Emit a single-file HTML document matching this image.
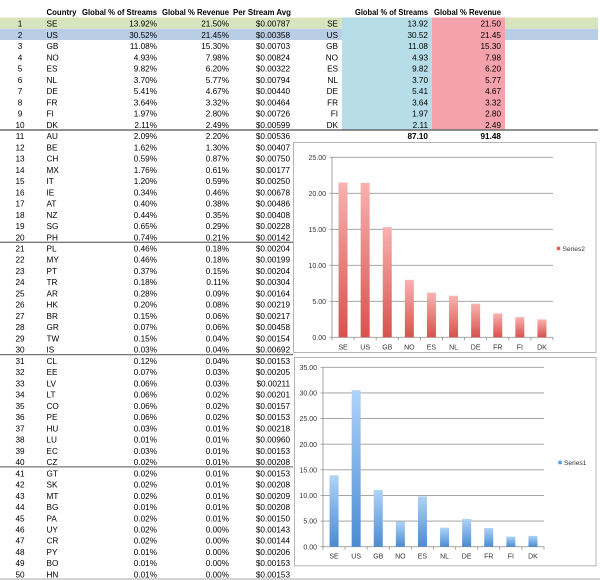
<!DOCTYPE html>
<html><head><meta charset="utf-8"><style>
html,body{margin:0;padding:0;background:#fff;}
svg{display:block;}
text{font-family:"Liberation Sans",Arial,sans-serif;font-size:8.2px;fill:#000;}
.e{text-anchor:end;}
.m{text-anchor:middle;}
.h{font-weight:bold;font-size:8px;}
.b{font-weight:bold;}
.ax{font-size:7px;fill:#333;}
.lg{font-size:6.6px;fill:#333;}
</style></head><body>
<svg width="600" height="580" viewBox="0 0 600 580" xmlns="http://www.w3.org/2000/svg">
<defs>
<linearGradient id="rg" x1="0" y1="0" x2="0" y2="1"><stop offset="0" stop-color="#f8b2b0"/><stop offset="1" stop-color="#d7524d"/></linearGradient>
<linearGradient id="bg" x1="0" y1="0" x2="0" y2="1"><stop offset="0" stop-color="#afd3f8"/><stop offset="1" stop-color="#4a8bd3"/></linearGradient>
</defs>
<rect x="0" y="0" width="600" height="580" fill="#fff"/>
<!-- row bands -->
<rect x="0" y="17.5" width="598" height="11.24" fill="#d7e4bd"/>
<rect x="0" y="28.74" width="598" height="11.24" fill="#b9cde5"/>
<rect x="342" y="17.5" width="90" height="112.4" fill="#b7dee8"/>
<rect x="432" y="17.5" width="73" height="112.4" fill="#f4a2ac"/>
<!-- separators -->
<line x1="0" y1="130" x2="598" y2="130" stroke="#6b6b6b" stroke-width="1.5"/>
<line x1="0" y1="242.3" x2="293" y2="242.3" stroke="#777" stroke-width="1.3"/>
<line x1="0" y1="354.6" x2="293" y2="354.6" stroke="#777" stroke-width="1.3"/>
<line x1="0" y1="466.9" x2="293" y2="466.9" stroke="#777" stroke-width="1.3"/>
<line x1="0" y1="579" x2="600" y2="579" stroke="#aaa" stroke-width="1"/>

<!-- headers -->
<text class="h" x="46.5" y="15" textLength="30" lengthAdjust="spacingAndGlyphs">Country</text>
<text class="h" x="82" y="15" textLength="75" lengthAdjust="spacingAndGlyphs">Global % of Streams</text>
<text class="h" x="162" y="15" textLength="67" lengthAdjust="spacingAndGlyphs">Global % Revenue</text>
<text class="h" x="233" y="15" textLength="58" lengthAdjust="spacingAndGlyphs">Per Stream Avg</text>
<text class="h" x="355" y="15" textLength="73" lengthAdjust="spacingAndGlyphs">Global % of Streams</text>
<text class="h" x="434" y="15" textLength="67" lengthAdjust="spacingAndGlyphs">Global % Revenue</text>

<!-- rows -->
<g transform="translate(0,26.7)"><text x="20" class="m">1</text><text x="46.5">SE</text><text x="157" class="e">13.92%</text><text x="229" class="e">21.50%</text><text x="290" class="e">$0.00787</text><text x="338" class="e">SE</text><text x="428" class="e">13.92</text><text x="501" class="e">21.50</text></g>
<g transform="translate(0,37.94)"><text x="20" class="m">2</text><text x="46.5">US</text><text x="157" class="e">30.52%</text><text x="229" class="e">21.45%</text><text x="290" class="e">$0.00358</text><text x="338" class="e">US</text><text x="428" class="e">30.52</text><text x="501" class="e">21.45</text></g>
<g transform="translate(0,49.18)"><text x="20" class="m">3</text><text x="46.5">GB</text><text x="157" class="e">11.08%</text><text x="229" class="e">15.30%</text><text x="290" class="e">$0.00703</text><text x="338" class="e">GB</text><text x="428" class="e">11.08</text><text x="501" class="e">15.30</text></g>
<g transform="translate(0,60.42)"><text x="20" class="m">4</text><text x="46.5">NO</text><text x="157" class="e">4.93%</text><text x="229" class="e">7.98%</text><text x="290" class="e">$0.00824</text><text x="338" class="e">NO</text><text x="428" class="e">4.93</text><text x="501" class="e">7.98</text></g>
<g transform="translate(0,71.66)"><text x="20" class="m">5</text><text x="46.5">ES</text><text x="157" class="e">9.82%</text><text x="229" class="e">6.20%</text><text x="290" class="e">$0.00322</text><text x="338" class="e">ES</text><text x="428" class="e">9.82</text><text x="501" class="e">6.20</text></g>
<g transform="translate(0,82.9)"><text x="20" class="m">6</text><text x="46.5">NL</text><text x="157" class="e">3.70%</text><text x="229" class="e">5.77%</text><text x="290" class="e">$0.00794</text><text x="338" class="e">NL</text><text x="428" class="e">3.70</text><text x="501" class="e">5.77</text></g>
<g transform="translate(0,94.14)"><text x="20" class="m">7</text><text x="46.5">DE</text><text x="157" class="e">5.41%</text><text x="229" class="e">4.67%</text><text x="290" class="e">$0.00440</text><text x="338" class="e">DE</text><text x="428" class="e">5.41</text><text x="501" class="e">4.67</text></g>
<g transform="translate(0,105.38)"><text x="20" class="m">8</text><text x="46.5">FR</text><text x="157" class="e">3.64%</text><text x="229" class="e">3.32%</text><text x="290" class="e">$0.00464</text><text x="338" class="e">FR</text><text x="428" class="e">3.64</text><text x="501" class="e">3.32</text></g>
<g transform="translate(0,116.62)"><text x="20" class="m">9</text><text x="46.5">FI</text><text x="157" class="e">1.97%</text><text x="229" class="e">2.80%</text><text x="290" class="e">$0.00726</text><text x="338" class="e">FI</text><text x="428" class="e">1.97</text><text x="501" class="e">2.80</text></g>
<g transform="translate(0,127.86)"><text x="20" class="m">10</text><text x="46.5">DK</text><text x="157" class="e">2.11%</text><text x="229" class="e">2.49%</text><text x="290" class="e">$0.00599</text><text x="338" class="e">DK</text><text x="428" class="e">2.11</text><text x="501" class="e">2.49</text></g>
<g transform="translate(0,139.1)"><text x="20" class="m">11</text><text x="46.5">AU</text><text x="157" class="e">2.09%</text><text x="229" class="e">2.20%</text><text x="290" class="e">$0.00536</text><text x="428" class="e b">87.10</text><text x="501" class="e b">91.48</text></g>
<g transform="translate(0,150.34)"><text x="20" class="m">12</text><text x="46.5">BE</text><text x="157" class="e">1.62%</text><text x="229" class="e">1.30%</text><text x="290" class="e">$0.00407</text></g>
<g transform="translate(0,161.58)"><text x="20" class="m">13</text><text x="46.5">CH</text><text x="157" class="e">0.59%</text><text x="229" class="e">0.87%</text><text x="290" class="e">$0.00750</text></g>
<g transform="translate(0,172.82)"><text x="20" class="m">14</text><text x="46.5">MX</text><text x="157" class="e">1.76%</text><text x="229" class="e">0.61%</text><text x="290" class="e">$0.00177</text></g>
<g transform="translate(0,184.06)"><text x="20" class="m">15</text><text x="46.5">IT</text><text x="157" class="e">1.20%</text><text x="229" class="e">0.59%</text><text x="290" class="e">$0.00250</text></g>
<g transform="translate(0,195.3)"><text x="20" class="m">16</text><text x="46.5">IE</text><text x="157" class="e">0.34%</text><text x="229" class="e">0.46%</text><text x="290" class="e">$0.00678</text></g>
<g transform="translate(0,206.54)"><text x="20" class="m">17</text><text x="46.5">AT</text><text x="157" class="e">0.40%</text><text x="229" class="e">0.38%</text><text x="290" class="e">$0.00486</text></g>
<g transform="translate(0,217.78)"><text x="20" class="m">18</text><text x="46.5">NZ</text><text x="157" class="e">0.44%</text><text x="229" class="e">0.35%</text><text x="290" class="e">$0.00408</text></g>
<g transform="translate(0,229.02)"><text x="20" class="m">19</text><text x="46.5">SG</text><text x="157" class="e">0.65%</text><text x="229" class="e">0.29%</text><text x="290" class="e">$0.00228</text></g>
<g transform="translate(0,240.26)"><text x="20" class="m">20</text><text x="46.5">PH</text><text x="157" class="e">0.74%</text><text x="229" class="e">0.21%</text><text x="290" class="e">$0.00142</text></g>
<g transform="translate(0,251.5)"><text x="20" class="m">21</text><text x="46.5">PL</text><text x="157" class="e">0.46%</text><text x="229" class="e">0.18%</text><text x="290" class="e">$0.00204</text></g>
<g transform="translate(0,262.74)"><text x="20" class="m">22</text><text x="46.5">MY</text><text x="157" class="e">0.46%</text><text x="229" class="e">0.18%</text><text x="290" class="e">$0.00199</text></g>
<g transform="translate(0,273.98)"><text x="20" class="m">23</text><text x="46.5">PT</text><text x="157" class="e">0.37%</text><text x="229" class="e">0.15%</text><text x="290" class="e">$0.00204</text></g>
<g transform="translate(0,285.22)"><text x="20" class="m">24</text><text x="46.5">TR</text><text x="157" class="e">0.18%</text><text x="229" class="e">0.11%</text><text x="290" class="e">$0.00304</text></g>
<g transform="translate(0,296.46)"><text x="20" class="m">25</text><text x="46.5">AR</text><text x="157" class="e">0.28%</text><text x="229" class="e">0.09%</text><text x="290" class="e">$0.00164</text></g>
<g transform="translate(0,307.7)"><text x="20" class="m">26</text><text x="46.5">HK</text><text x="157" class="e">0.20%</text><text x="229" class="e">0.08%</text><text x="290" class="e">$0.00219</text></g>
<g transform="translate(0,318.94)"><text x="20" class="m">27</text><text x="46.5">BR</text><text x="157" class="e">0.15%</text><text x="229" class="e">0.06%</text><text x="290" class="e">$0.00217</text></g>
<g transform="translate(0,330.18)"><text x="20" class="m">28</text><text x="46.5">GR</text><text x="157" class="e">0.07%</text><text x="229" class="e">0.06%</text><text x="290" class="e">$0.00458</text></g>
<g transform="translate(0,341.42)"><text x="20" class="m">29</text><text x="46.5">TW</text><text x="157" class="e">0.15%</text><text x="229" class="e">0.04%</text><text x="290" class="e">$0.00154</text></g>
<g transform="translate(0,352.66)"><text x="20" class="m">30</text><text x="46.5">IS</text><text x="157" class="e">0.03%</text><text x="229" class="e">0.04%</text><text x="290" class="e">$0.00692</text></g>
<g transform="translate(0,363.9)"><text x="20" class="m">31</text><text x="46.5">CL</text><text x="157" class="e">0.12%</text><text x="229" class="e">0.04%</text><text x="290" class="e">$0.00153</text></g>
<g transform="translate(0,375.14)"><text x="20" class="m">32</text><text x="46.5">EE</text><text x="157" class="e">0.07%</text><text x="229" class="e">0.03%</text><text x="290" class="e">$0.00205</text></g>
<g transform="translate(0,386.38)"><text x="20" class="m">33</text><text x="46.5">LV</text><text x="157" class="e">0.06%</text><text x="229" class="e">0.03%</text><text x="290" class="e">$0.00211</text></g>
<g transform="translate(0,397.62)"><text x="20" class="m">34</text><text x="46.5">LT</text><text x="157" class="e">0.06%</text><text x="229" class="e">0.02%</text><text x="290" class="e">$0.00201</text></g>
<g transform="translate(0,408.86)"><text x="20" class="m">35</text><text x="46.5">CO</text><text x="157" class="e">0.06%</text><text x="229" class="e">0.02%</text><text x="290" class="e">$0.00157</text></g>
<g transform="translate(0,420.1)"><text x="20" class="m">36</text><text x="46.5">PE</text><text x="157" class="e">0.06%</text><text x="229" class="e">0.02%</text><text x="290" class="e">$0.00153</text></g>
<g transform="translate(0,431.34)"><text x="20" class="m">37</text><text x="46.5">HU</text><text x="157" class="e">0.03%</text><text x="229" class="e">0.01%</text><text x="290" class="e">$0.00218</text></g>
<g transform="translate(0,442.58)"><text x="20" class="m">38</text><text x="46.5">LU</text><text x="157" class="e">0.01%</text><text x="229" class="e">0.01%</text><text x="290" class="e">$0.00960</text></g>
<g transform="translate(0,453.82)"><text x="20" class="m">39</text><text x="46.5">EC</text><text x="157" class="e">0.03%</text><text x="229" class="e">0.01%</text><text x="290" class="e">$0.00153</text></g>
<g transform="translate(0,465.06)"><text x="20" class="m">40</text><text x="46.5">CZ</text><text x="157" class="e">0.02%</text><text x="229" class="e">0.01%</text><text x="290" class="e">$0.00208</text></g>
<g transform="translate(0,476.3)"><text x="20" class="m">41</text><text x="46.5">GT</text><text x="157" class="e">0.02%</text><text x="229" class="e">0.01%</text><text x="290" class="e">$0.00153</text></g>
<g transform="translate(0,487.54)"><text x="20" class="m">42</text><text x="46.5">SK</text><text x="157" class="e">0.02%</text><text x="229" class="e">0.01%</text><text x="290" class="e">$0.00208</text></g>
<g transform="translate(0,498.78)"><text x="20" class="m">43</text><text x="46.5">MT</text><text x="157" class="e">0.02%</text><text x="229" class="e">0.01%</text><text x="290" class="e">$0.00209</text></g>
<g transform="translate(0,510.02)"><text x="20" class="m">44</text><text x="46.5">BG</text><text x="157" class="e">0.01%</text><text x="229" class="e">0.01%</text><text x="290" class="e">$0.00208</text></g>
<g transform="translate(0,521.26)"><text x="20" class="m">45</text><text x="46.5">PA</text><text x="157" class="e">0.02%</text><text x="229" class="e">0.01%</text><text x="290" class="e">$0.00150</text></g>
<g transform="translate(0,532.5)"><text x="20" class="m">46</text><text x="46.5">UY</text><text x="157" class="e">0.02%</text><text x="229" class="e">0.00%</text><text x="290" class="e">$0.00143</text></g>
<g transform="translate(0,543.74)"><text x="20" class="m">47</text><text x="46.5">CR</text><text x="157" class="e">0.02%</text><text x="229" class="e">0.00%</text><text x="290" class="e">$0.00144</text></g>
<g transform="translate(0,554.98)"><text x="20" class="m">48</text><text x="46.5">PY</text><text x="157" class="e">0.01%</text><text x="229" class="e">0.00%</text><text x="290" class="e">$0.00206</text></g>
<g transform="translate(0,566.22)"><text x="20" class="m">49</text><text x="46.5">BO</text><text x="157" class="e">0.01%</text><text x="229" class="e">0.00%</text><text x="290" class="e">$0.00153</text></g>
<g transform="translate(0,577.46)"><text x="20" class="m">50</text><text x="46.5">HN</text><text x="157" class="e">0.01%</text><text x="229" class="e">0.00%</text><text x="290" class="e">$0.00153</text></g>

<!-- Chart 1 (Series2 - revenue) -->
<rect x="293.5" y="142.5" width="302.5" height="210" fill="#fff" stroke="#b5b5b5" stroke-width="1"/>
<g stroke="#9a9a9a" stroke-width="0.9">
<line x1="329.5" y1="157.3" x2="553" y2="157.3"/>
<line x1="329.5" y1="193.3" x2="553" y2="193.3"/>
<line x1="329.5" y1="229.3" x2="553" y2="229.3"/>
<line x1="329.5" y1="265.3" x2="553" y2="265.3"/>
<line x1="329.5" y1="301.3" x2="553" y2="301.3"/>
<line x1="329.5" y1="337.3" x2="553" y2="337.3"/>
<line x1="332" y1="157.3" x2="332" y2="337.3"/>
<line x1="332" y1="337.3" x2="332" y2="340.3"/><line x1="354.1" y1="337.3" x2="354.1" y2="340.3"/><line x1="376.2" y1="337.3" x2="376.2" y2="340.3"/><line x1="398.3" y1="337.3" x2="398.3" y2="340.3"/><line x1="420.4" y1="337.3" x2="420.4" y2="340.3"/><line x1="442.5" y1="337.3" x2="442.5" y2="340.3"/><line x1="464.6" y1="337.3" x2="464.6" y2="340.3"/><line x1="486.7" y1="337.3" x2="486.7" y2="340.3"/><line x1="508.8" y1="337.3" x2="508.8" y2="340.3"/><line x1="530.9" y1="337.3" x2="530.9" y2="340.3"/><line x1="553" y1="337.3" x2="553" y2="340.3"/>
</g>
<g fill="url(#rg)">
<rect x="338.55" y="182.5" width="9" height="154.8"/>
<rect x="360.65" y="182.86" width="9" height="154.44"/>
<rect x="382.75" y="227.14" width="9" height="110.16"/>
<rect x="404.85" y="279.84" width="9" height="57.46"/>
<rect x="426.95" y="292.66" width="9" height="44.64"/>
<rect x="449.05" y="295.76" width="9" height="41.54"/>
<rect x="471.15" y="303.68" width="9" height="33.62"/>
<rect x="493.25" y="313.4" width="9" height="23.9"/>
<rect x="515.35" y="317.14" width="9" height="20.16"/>
<rect x="537.45" y="319.37" width="9" height="17.93"/>
</g>
<g class="ax">
<text class="ax e" x="326" y="159.9">25.00</text>
<text class="ax e" x="326" y="195.9">20.00</text>
<text class="ax e" x="326" y="231.9">15.00</text>
<text class="ax e" x="326" y="267.9">10.00</text>
<text class="ax e" x="326" y="303.9">5.00</text>
<text class="ax e" x="326" y="339.9">0.00</text>
<text class="ax m" x="343.05" y="349.5">SE</text>
<text class="ax m" x="365.15" y="349.5">US</text>
<text class="ax m" x="387.25" y="349.5">GB</text>
<text class="ax m" x="409.35" y="349.5">NO</text>
<text class="ax m" x="431.45" y="349.5">ES</text>
<text class="ax m" x="453.55" y="349.5">NL</text>
<text class="ax m" x="475.65" y="349.5">DE</text>
<text class="ax m" x="497.75" y="349.5">FR</text>
<text class="ax m" x="519.85" y="349.5">FI</text>
<text class="ax m" x="541.95" y="349.5">DK</text>
</g>
<rect x="556.7" y="246.7" width="3.5" height="3.5" fill="#e0615c"/>
<text class="lg" x="562.5" y="251">Series2</text>

<!-- Chart 2 (Series1 - streams) -->
<rect x="294.5" y="357.5" width="301.5" height="208.3" fill="#fff" stroke="#b5b5b5" stroke-width="1"/>
<g stroke="#9a9a9a" stroke-width="0.9">
<line x1="320.5" y1="367.29" x2="544" y2="367.29"/>
<line x1="320.5" y1="392.92" x2="544" y2="392.92"/>
<line x1="320.5" y1="418.55" x2="544" y2="418.55"/>
<line x1="320.5" y1="444.18" x2="544" y2="444.18"/>
<line x1="320.5" y1="469.81" x2="544" y2="469.81"/>
<line x1="320.5" y1="495.44" x2="544" y2="495.44"/>
<line x1="320.5" y1="521.07" x2="544" y2="521.07"/>
<line x1="320.5" y1="546.7" x2="544" y2="546.7"/>
<line x1="323" y1="367.29" x2="323" y2="546.7"/>
<line x1="323" y1="546.7" x2="323" y2="549.7"/><line x1="345.1" y1="546.7" x2="345.1" y2="549.7"/><line x1="367.2" y1="546.7" x2="367.2" y2="549.7"/><line x1="389.3" y1="546.7" x2="389.3" y2="549.7"/><line x1="411.4" y1="546.7" x2="411.4" y2="549.7"/><line x1="433.5" y1="546.7" x2="433.5" y2="549.7"/><line x1="455.6" y1="546.7" x2="455.6" y2="549.7"/><line x1="477.7" y1="546.7" x2="477.7" y2="549.7"/><line x1="499.8" y1="546.7" x2="499.8" y2="549.7"/><line x1="521.9" y1="546.7" x2="521.9" y2="549.7"/><line x1="544" y1="546.7" x2="544" y2="549.7"/>
</g>
<g fill="url(#bg)">
<rect x="329.55" y="475.35" width="9" height="71.35"/>
<rect x="351.65" y="390.25" width="9" height="156.45"/>
<rect x="373.75" y="489.9" width="9" height="56.8"/>
<rect x="395.85" y="521.43" width="9" height="25.27"/>
<rect x="417.95" y="496.36" width="9" height="50.34"/>
<rect x="440.05" y="527.73" width="9" height="18.97"/>
<rect x="462.15" y="518.97" width="9" height="27.73"/>
<rect x="484.25" y="528.04" width="9" height="18.66"/>
<rect x="506.35" y="536.6" width="9" height="10.1"/>
<rect x="528.45" y="535.88" width="9" height="10.82"/>
</g>
<text class="ax e" x="317" y="369.9">35.00</text>
<text class="ax e" x="317" y="395.5">30.00</text>
<text class="ax e" x="317" y="421.2">25.00</text>
<text class="ax e" x="317" y="446.8">20.00</text>
<text class="ax e" x="317" y="472.4">15.00</text>
<text class="ax e" x="317" y="498">10.00</text>
<text class="ax e" x="317" y="523.7">5.00</text>
<text class="ax e" x="317" y="549.3">0.00</text>
<text class="ax m" x="334.05" y="558.5">SE</text>
<text class="ax m" x="356.15" y="558.5">US</text>
<text class="ax m" x="378.25" y="558.5">GB</text>
<text class="ax m" x="400.35" y="558.5">NO</text>
<text class="ax m" x="422.45" y="558.5">ES</text>
<text class="ax m" x="444.55" y="558.5">NL</text>
<text class="ax m" x="466.65" y="558.5">DE</text>
<text class="ax m" x="488.75" y="558.5">FR</text>
<text class="ax m" x="510.85" y="558.5">FI</text>
<text class="ax m" x="532.95" y="558.5">DK</text>
<rect x="558.3" y="460.7" width="3.5" height="3.5" fill="#5b9be0"/>
<text class="lg" x="564" y="465">Series1</text>
</svg>
</body></html>
